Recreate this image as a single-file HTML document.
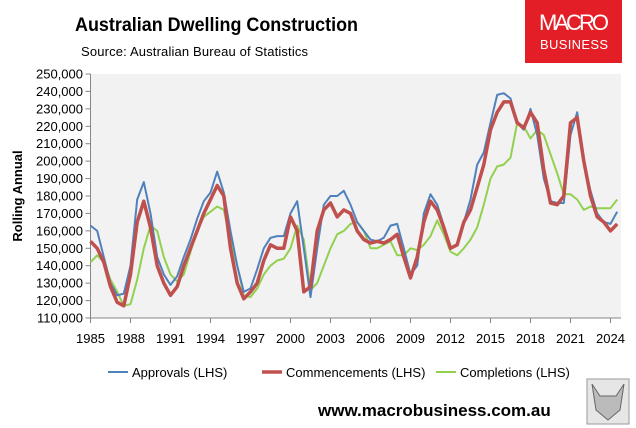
<!DOCTYPE html>
<html><head><meta charset="utf-8"><style>
body{margin:0;background:#fff;width:636px;height:428px;overflow:hidden;font-family:"Liberation Sans",sans-serif}
svg{position:absolute;left:0;top:0}
</style></head><body>
<svg width="636" height="428">
<text x="75" y="31" font-size="19" font-weight="bold" fill="#000" textLength="283" lengthAdjust="spacingAndGlyphs">Australian Dwelling Construction</text>
<text x="81" y="56" font-size="13" fill="#000" textLength="227">Source: Australian Bureau of Statistics</text>
<g>
<rect x="525" y="0" width="97" height="63" fill="#e41e26"/>
<text x="574" y="30" font-size="22" fill="#fff" text-anchor="middle" textLength="70">MACRO</text>
<text x="574" y="49" font-size="13" fill="#fff" text-anchor="middle" textLength="68">BUSINESS</text>
</g>
<rect x="90" y="74" width="531" height="244" fill="#f2f2f2"/>
<g id="axes"></g>
<g id="series"></g>
<text transform="translate(22,196) rotate(-90)" font-size="13" font-weight="bold" text-anchor="middle">Rolling Annual</text>
<g font-size="13">
<g><line x1="108" y1="372" x2="128" y2="372" stroke="#4f81bd" stroke-width="2"/><text x="132" y="377">Approvals (LHS)</text></g>
<g><line x1="262" y1="372" x2="282" y2="372" stroke="#c0504d" stroke-width="3.5"/><text x="286" y="377">Commencements (LHS)</text></g>
<g><line x1="436" y1="372" x2="456" y2="372" stroke="#92d050" stroke-width="2"/><text x="460" y="377">Completions (LHS)</text></g>
</g>
<text x="318" y="416" font-size="17" font-weight="bold">www.macrobusiness.com.au</text>
<g><rect x="587" y="379" width="42" height="45" fill="#e6e6e6" stroke="#999"/><path d="M592 384 L600 396 L616 396 L624 384 L620 410 L608 420 L596 410 Z" fill="#bbb" stroke="#666"/></g>
</svg>
<script>
const years = [];
for (let y = 1985; y <= 2024.5; y += 0.5) years.push(y);
const approvals = [163,160,145,130,123,124,140,178,188,170,145,135,129,134,145,155,167,177,182,194,182,160,140,125,127,138,150,156,157,157,170,177,150,122,150,175,180,180,183,175,165,160,155,154,156,163,164,150,135,140,170,181,175,163,150,152,165,178,198,205,222,238,239,236,222,218,230,215,190,177,176,176,215,228,200,183,170,165,164,171];
const commencements = [154,150,142,128,119,117,135,165,177,162,140,130,123,128,140,150,160,170,178,186,180,150,130,121,125,130,143,152,150,150,168,160,125,128,160,172,176,168,172,170,160,155,153,154,153,155,158,145,133,145,165,177,172,162,150,152,165,172,185,198,218,228,234,234,222,219,228,222,195,176,175,180,222,225,200,180,168,165,160,164];
const completions = [142,146,142,132,125,117,118,132,150,163,160,145,135,131,135,148,160,168,171,174,172,155,140,123,122,127,135,140,143,144,150,163,155,126,130,140,150,158,160,164,165,160,150,150,152,154,146,146,150,149,152,157,166,158,148,146,150,155,162,175,190,197,198,202,222,220,213,218,215,204,193,181,181,178,172,174,173,173,173,178];
const yTicks = [110000,120000,130000,140000,150000,160000,170000,180000,190000,200000,210000,220000,230000,240000,250000];
const xTicks = [1985,1988,1991,1994,1997,2000,2003,2006,2009,2012,2015,2018,2021,2024];
const NS='http://www.w3.org/2000/svg';
const X0=90.5, YR=13.333, Y0=318, Y1=74;
const xs = y => X0 + (y-1985)*YR;
const ys = v => Y0 - (v-110)/(250-110)*(Y0-Y1);
const axes=document.getElementById('axes');
function mk(tag, attrs, parent){const e=document.createElementNS(NS,tag);for(const k in attrs)e.setAttribute(k,attrs[k]);parent.appendChild(e);return e;}
mk('line',{x1:X0,y1:Y1,x2:X0,y2:Y0,stroke:'#868686'},axes);
mk('line',{x1:X0,y1:Y0,x2:621,y2:Y0,stroke:'#868686'},axes);
yTicks.forEach(v=>{const y=ys(v/1000);
 mk('line',{x1:X0-5,y1:y,x2:X0,y2:y,stroke:'#868686'},axes);
 const t=mk('text',{x:83,y:y+4.5,'font-size':13,'text-anchor':'end'},axes);
 t.textContent=v.toLocaleString('en-US');
 
 
});
xTicks.forEach(yr=>{const x=xs(yr);
 mk('line',{x1:x,y1:Y0,x2:x,y2:Y0+5,stroke:'#868686'},axes);
 const t=mk('text',{x:x,y:343,'font-size':13,'text-anchor':'middle'},axes);
 t.textContent=yr;
 
 
});
const g=document.getElementById('series');
function line(vals,color,w,name){
 const d=vals.map((v,i)=>(i?'L':'M')+xs(years[i]).toFixed(1)+' '+ys(v).toFixed(1)).join(' ');
 const p=mk('path',{d:d,fill:'none',stroke:color,'stroke-width':w,'stroke-linejoin':'round'},g);
 
 
}
line(completions,'#92d050',2,'completions-line');
line(approvals,'#4f81bd',2,'approvals-line');
line(commencements,'#c0504d',3.5,'commencements-line');
</script>
</body></html>
